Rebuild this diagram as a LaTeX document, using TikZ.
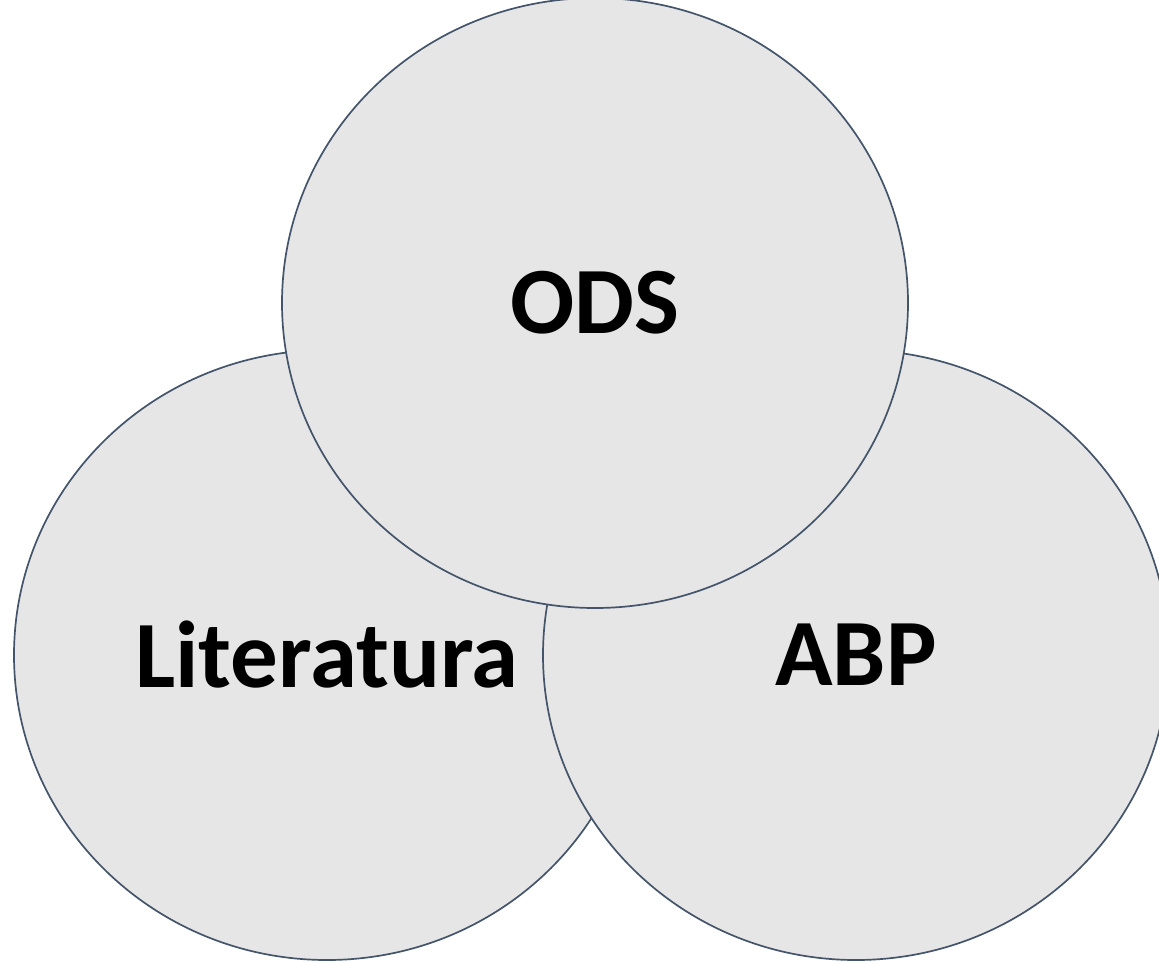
\documentclass[tikz,border=0pt]{standalone}
\usepackage{fontspec}
\setmainfont{Carlito}
\usetikzlibrary{shapes.geometric}
\definecolor{circfill}{HTML}{E6E6E6}
\definecolor{circline}{HTML}{44546A}
\tikzset{
  venn/.style={ellipse, draw=circline, line width=1.7pt, fill=circfill,
    minimum width=626pt, minimum height=610pt, inner sep=0pt,
    font=\fontsize{95}{100}\selectfont\bfseries, text=black}
}
\begin{document}
\begin{tikzpicture}[x=1pt,y=-1pt]
\useasboundingbox (0,0) rectangle (1159,962);
\clip (0,0) rectangle (1159,962);
\node[venn] (lit) at (327,655) {Literatura};
\node[venn] (abp) at (856,655) {ABP};
\node[venn] (ods) at (595,303) {ODS};
\end{tikzpicture}
\end{document}
